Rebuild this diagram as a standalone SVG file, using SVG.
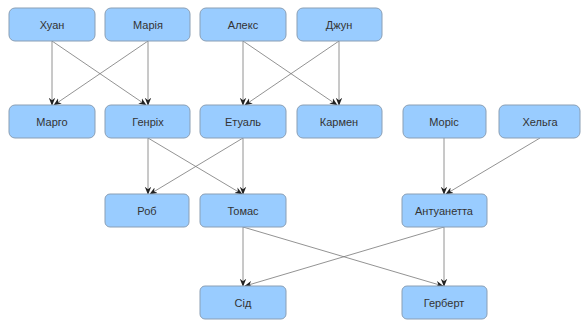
<svg xmlns="http://www.w3.org/2000/svg" width="581" height="324" viewBox="0 0 581 324">
<defs>
<style>
.n rect{fill:#99ccff;stroke:#8a9fb5;stroke-width:1}
.n text{font-family:"Liberation Sans",Arial,sans-serif;font-size:11px;fill:#333;text-anchor:middle}
.e line{stroke:#777;stroke-width:0.8;marker-end:url(#a)}
</style>
<marker id="a" viewBox="0 0 10 10" refX="9" refY="5" markerWidth="8" markerHeight="8" markerUnits="userSpaceOnUse" orient="auto">
<path d="M0,1 L10,5 L0,9 L3,5 Z" fill="#222"/>
</marker>
</defs>
<rect width="581" height="324" fill="#fff"/>
<g id="connectors" class="e">
<line x1="52" y1="41" x2="52" y2="105"/>
<line x1="52" y1="41" x2="146" y2="105"/>
<line x1="148" y1="41" x2="54" y2="105"/>
<line x1="148" y1="41" x2="148" y2="105"/>
<line x1="243" y1="41" x2="243" y2="105"/>
<line x1="243" y1="41" x2="337" y2="105"/>
<line x1="339" y1="41" x2="245" y2="105"/>
<line x1="339" y1="41" x2="339" y2="105"/>
<line x1="148" y1="138" x2="148" y2="194"/>
<line x1="148" y1="138" x2="242" y2="194"/>
<line x1="243" y1="138" x2="150" y2="194"/>
<line x1="243" y1="138" x2="243" y2="194"/>
<line x1="444" y1="138" x2="444" y2="194"/>
<line x1="540" y1="138" x2="446" y2="194"/>
<line x1="243" y1="227" x2="243" y2="286"/>
<line x1="243" y1="227" x2="443" y2="286"/>
<line x1="444" y1="227" x2="245" y2="286"/>
<line x1="444" y1="227" x2="444" y2="286"/>
</g>
<g id="n-juan" class="n"><rect x="9" y="8" width="86" height="33" rx="6"/><text x="52" y="28.5">Хуан</text></g>
<g id="n-maria" class="n"><rect x="105" y="8" width="85" height="33" rx="6"/><text x="148" y="28.5">Марія</text></g>
<g id="n-alex" class="n"><rect x="200" y="8" width="86" height="33" rx="6"/><text x="243" y="28.5">Алекс</text></g>
<g id="n-jun" class="n"><rect x="297" y="8" width="85" height="33" rx="6"/><text x="339" y="28.5">Джун</text></g>
<g id="n-margo" class="n"><rect x="9" y="105" width="86" height="33" rx="6"/><text x="52" y="125.5">Марго</text></g>
<g id="n-henri" class="n"><rect x="105" y="105" width="85" height="33" rx="6"/><text x="148" y="125.5">Генріх</text></g>
<g id="n-etual" class="n"><rect x="200" y="105" width="86" height="33" rx="6"/><text x="243" y="125.5">Етуаль</text></g>
<g id="n-karmen" class="n"><rect x="297" y="105" width="85" height="33" rx="6"/><text x="339" y="125.5">Кармен</text></g>
<g id="n-moris" class="n"><rect x="403" y="105" width="83" height="33" rx="6"/><text x="444" y="125.5">Моріс</text></g>
<g id="n-helga" class="n"><rect x="499" y="105" width="81" height="33" rx="6"/><text x="540" y="125.5">Хельга</text></g>
<g id="n-rob" class="n"><rect x="105" y="194" width="84" height="33" rx="5"/><text x="147" y="214.5">Роб</text></g>
<g id="n-tomas" class="n"><rect x="200" y="194" width="86" height="33" rx="5"/><text x="243" y="214.5">Томас</text></g>
<g id="n-antuanetta" class="n"><rect x="402" y="194" width="85" height="33" rx="5"/><text x="444" y="214.5">Антуанетта</text></g>
<g id="n-sid" class="n"><rect x="200" y="286" width="86" height="33" rx="5"/><text x="243" y="306.5">Сід</text></g>
<g id="n-herbert" class="n"><rect x="402" y="286" width="85" height="33" rx="5"/><text x="444" y="306.5">Герберт</text></g>
</svg>
